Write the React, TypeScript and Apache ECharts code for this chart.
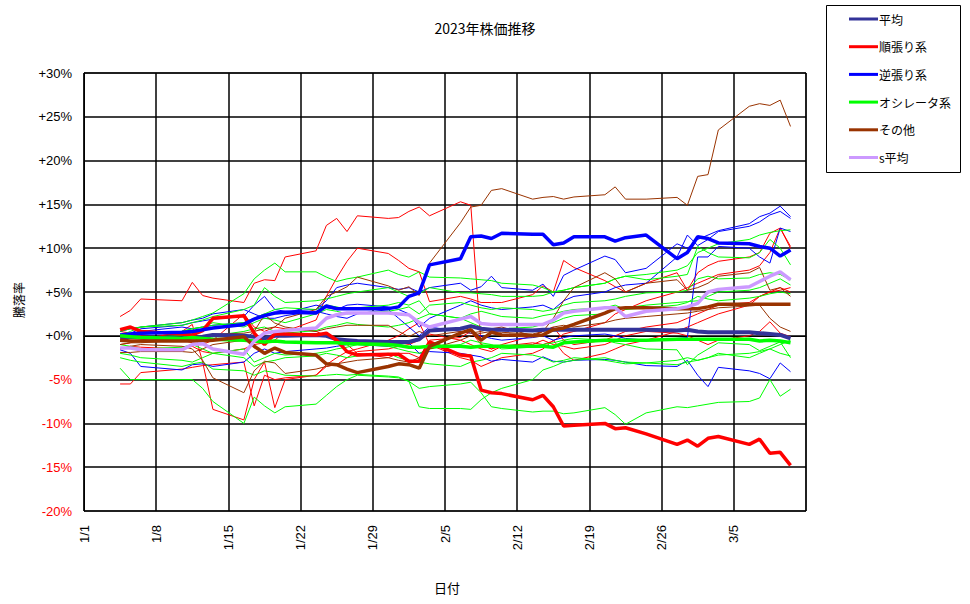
import React, { useEffect, useRef } from "react";
import * as echarts from "echarts";

// trading days (x positions come from these dates through the value axis)
const tradingDays = [
  "1/4", "1/5", "1/6", "1/10", "1/11", "1/12", "1/13", "1/16", "1/17", "1/18",
  "1/19", "1/20", "1/23", "1/24", "1/25", "1/26", "1/27", "1/30", "1/31", "2/1",
  "2/2", "2/3", "2/6", "2/7", "2/8", "2/9", "2/10", "2/13", "2/14", "2/15",
  "2/16", "2/17", "2/20", "2/21", "2/22", "2/24", "2/27", "2/28", "3/1", "3/2",
  "3/3", "3/6", "3/7", "3/8", "3/9", "3/10",
];

const avgAll = [
  -0.2, -0.1, -0.2, -0.3, -0.2, -0.1, 0.1, 0.0, -0.1, -0.3,
  0.0, 0.0, 0.1, 0.0, -0.4, -0.5, -0.6, -0.7, -0.7, -0.7,
  -0.4, 0.6, 0.8, 1.1, 0.8, 0.7, 0.7, 0.6, 0.7, 0.7,
  0.7, 0.7, 0.7, 0.7, 0.7, 0.7, 0.6, 0.7, 0.5, 0.4,
  0.4, 0.4, 0.3, 0.2, 0.1, -0.3,
];
const trendAvg = [
  0.7, 1.0, 0.5, 0.2, 0.1, 0.6, 2.0, 2.3, 0.3, -1.0,
  0.2, 0.2, 0.1, 0.3, -0.5, -1.8, -2.2, -2.1, -2.1, -2.9,
  -2.9, -0.7, -2.2, -2.3, -6.2, -6.5, -6.6, -7.3, -6.8, -8.1,
  -10.3, -10.2, -10.0, -10.6, -10.5, -11.2, -12.4, -11.9, -12.6, -11.7,
  -11.5, -12.4, -11.8, -13.4, -13.3, -14.8,
];
const contraAvg = [
  0.1, 0.2, 0.3, 0.4, 0.5, 0.7, 0.9, 1.3, 1.9, 2.3,
  2.6, 2.7, 2.6, 3.4, 3.1, 3.1, 3.1, 3.1, 3.3, 4.5,
  4.9, 8.1, 8.8, 11.3, 11.4, 11.1, 11.7, 11.6, 11.6, 10.4,
  10.6, 11.3, 11.3, 10.8, 11.2, 11.5, 8.8, 9.5, 11.3, 11.1,
  10.6, 10.5, 10.2, 10.0, 9.1, 9.8,
];
const oscAvg = [
  0.0, -0.1, -0.2, -0.3, -0.2, -0.3, -0.4, -0.5, -0.6, -0.7,
  -0.6, -0.7, -0.8, -0.8, -0.8, -0.9, -0.9, -1.0, -1.1, -1.3,
  -1.3, -1.2, -1.2, -1.3, -1.2, -1.2, -1.2, -1.2, -1.2, -1.3,
  -0.8, -0.7, -0.5, -0.5, -0.5, -0.5, -0.4, -0.4, -0.4, -0.4,
  -0.4, -0.4, -0.6, -0.5, -0.6, -0.8,
];
const otherAvg = [
  -0.5, -0.6, -0.6, -0.6, -0.6, -0.6, -0.5, -0.1, -1.2, -2.0,
  -1.4, -1.9, -2.2, -3.2, -3.3, -3.8, -4.2, -3.5, -3.2, -3.3,
  -3.7, -1.2, 0.3, 0.7, -0.5, 0.4, 0.1, 0.0, 0.1, 0.7,
  0.9, 1.3, 2.6, 3.1, 3.2, 3.2, 3.1, 3.1, 3.1, 3.3,
  3.6, 3.6, 3.6, 3.6, 3.6, 3.6,
];
const sAvg = [
  -1.4, -1.4, -1.6, -1.6, -1.0, -0.9, -1.5, -2.1, -0.6, 0.3,
  0.5, 0.6, 0.9, 2.0, 2.4, 2.6, 2.6, 2.6, 2.5, 2.4,
  1.5, 1.0, 1.9, 2.2, 1.4, 1.3, 1.3, 1.3, 1.3, 1.8,
  2.6, 2.8, 3.2, 3.2, 2.2, 2.8, 3.1, 3.3, 3.7, 5.0,
  5.3, 5.6, 6.2, 6.8, 7.3, 6.4,
];

// individual strategies (thin lines)
const trendLines = [
  [2.2, 2.9, 4.2, 4.0, 6.1, 4.6, 4.3, 3.8, 6.0, 6.4,
   6.3, 9.0, 9.7, 12.6, 13.4, 11.9, 13.7, 13.4, 13.5, 14.2,
   14.7, 13.7, 15.3, 14.9, -1.0, -1.5, -1.2, -0.8, -1.0, -0.6,
   0.2, 0.5, 1.5, 2.5, 3.0, 4.0, 5.0, 5.5, 6.0, 6.5,
   7.0, 7.5, 8.0, 9.5, 12.3, 10.2],
  [-1.5, -1.2, -1.3, -1.5, -1.2, -1.8, -2.0, -1.5, -1.0, -0.8,
   -0.5, 0.5, 1.8, 4.5, 6.6, 8.5, 10.0, 9.4, 8.6, 7.7,
   7.3, 3.9, 4.5, 4.2, 3.8, 3.8, 3.8, 4.7, 5.7, 5.0,
   8.6, 7.8, 6.3, 5.6, 5.0, 6.0, 7.2, 5.2, 7.2, 8.0,
   8.5, 9.0, 9.5, 11.7, 12.3, 10.0],
  [-5.5, -5.5, -4.2, -3.8, -3.6, -3.4, -3.3, -3.0, -8.0, -4.5,
   -5.0, -4.8, -4.5, -3.3, -2.5, -1.8, -1.5, -0.5, 0.0, 0.8,
   1.5, -1.0, -2.5, -2.8, -3.5, -3.0, -2.5, -2.0, -1.5, -0.5,
   -2.0, -2.8, -2.0, -1.5, -1.0, -0.5, 0.5, 1.0, 1.5, 2.0,
   2.5, 3.5, 4.5, 5.0, 5.2, 5.5],
  [-1.0, -0.8, -0.5, 0.5, 1.3, -3.0, -8.4, -9.6, -5.0, -3.0,
   -8.2, -5.0, -4.5, -3.5, -3.3, -2.5, -1.8, -1.5, -1.2, -1.0,
   -0.5, 0.2, -0.5, -1.0, -1.5, -1.8, -1.2, -1.0, -0.5, -1.0,
   -1.2, -1.5, -1.0, -0.5, 0.0, 0.5, 0.3, 0.0, -0.5, -1.0,
   -0.5, 0.0, 0.5, 1.6, 0.3, -0.1],
  [0.5, 0.3, 0.0, -0.5, -0.8, -1.0, -0.5, 2.5, 1.0, 0.5,
   1.0, 0.8, 0.5, 0.0, -0.5, -1.0, -2.0, -2.5, -2.0, -2.0,
   -2.5, -0.5, -0.2, 0.5, -1.0, -1.5, -1.0, 0.0, 0.5, 1.0,
   -0.5, -1.0, -0.5, 0.0, 0.5, 1.0, 1.5, 2.0, 2.5, 3.0,
   3.5, 3.8, 4.5, 5.0, 5.5, 5.0],
];
const contraLines = [
  [-0.5, 0.3, 0.8, 1.2, 1.5, 1.7, 1.9, 2.2, 3.5, 4.5,
   3.0, 2.8, 3.0, 4.0, 5.5, 5.8, 6.0, 5.5, 5.3, 5.5,
   5.0, 5.5, 6.0, 5.2, 5.6, 6.8, 5.5, 5.2, 5.9, 4.5,
   6.9, 7.5, 9.1, 8.7, 7.2, 7.7, 10.5, 10.0, 11.0, 11.5,
   12.0, 12.8, 13.6, 14.0, 14.8, 13.6],
  [0.0, 0.2, 0.5, 1.0, 0.8, 1.0, 1.2, 1.5, 2.0, 2.5,
   2.5, 2.6, 3.5, 3.2, 3.0, 3.5, 3.6, 3.3, 3.0, 2.5,
   1.0, 2.0, 3.5, 4.0, 3.5, 3.2, 3.0, 3.3, 3.5, 3.0,
   4.0, 4.5, 5.0, 5.5, 5.8, 6.0, 9.0, 11.5, 10.3, 11.0,
   11.9, 12.5, 13.0, 13.8, 14.2, 13.4],
  [-1.6, -2.0, -3.5, -3.9, -3.3, -3.2, -3.5, -3.0, -2.0, -1.5,
   -2.0, -1.8, -1.5, -1.4, -1.2, -1.0, -1.0, -1.2, -1.0, -0.8,
   -2.0, -1.8, -2.0, -2.2, -2.4, -2.9, -2.7, -3.0, -2.4, -2.9,
   -3.0, -2.8, -2.7, -2.8, -3.0, -3.4, -3.5, -2.8, -4.5, -5.8,
   -3.6, -4.0, -4.3, -4.9, -3.1, -4.1],
  [0.5, 0.8, 1.0, 1.5, 1.8, 2.0, 2.5, 3.0, 2.5, 2.0,
   2.0, 2.3, 2.8, 2.5, 2.2, 2.0, 2.5, 3.0, 2.0, 1.0,
   0.0, 1.0, 0.5, 0.3, 0.0, -0.3, -0.5, -0.2, 0.0, -0.5,
   -0.2, 0.0, 0.2, 0.0, -0.3, -0.5, -0.3, -0.2, 9.0, 9.0,
   10.2, 10.0, 9.0, 8.3, 12.3, 11.9],
];
const oscLines = [
  [0.0, 0.5, 1.0, 1.5, 1.8, 2.2, 2.6, 4.8, 6.5, 7.5,
   8.3, 7.3, 7.3, 6.7, 6.2, 6.5, 6.7, 7.5, 7.0, 6.7,
   7.3, 6.7, 6.6, 6.5, 6.4, 6.3, 6.0, 5.8, 5.5, 5.0,
   5.2, 5.5, 6.0, 6.5, 6.8, 7.0, 7.5, 8.0, 9.5, 10.0,
   10.5, 11.0, 11.5, 11.8, 12.0, 12.1],
  [-2.5, -2.8, -3.0, -3.5, -3.2, -3.0, -3.8, -4.0, -4.5, -4.0,
   -4.2, -4.5, -4.6, -4.5, -4.4, -4.5, -4.4, -4.6, -4.7, -5.2,
   -6.0, -5.8, -5.5, -5.3, -6.5, -8.1, -8.3, -8.7, -8.6, -8.6,
   -8.9, -8.8, -8.2, -9.0, -10.1, -8.8, -8.1, -8.2, -8.0, -7.8,
   -7.6, -7.5, -7.1, -5.0, -6.9, -6.1],
  [-3.7, -5.0, -5.0, -5.0, -5.0, -6.0, -7.5, -10.0, -7.0, -8.0,
   -8.8, -8.1, -7.8, -6.8, -5.8, -5.0, -4.5, -4.7, -4.8, -5.2,
   -8.1, -8.3, -8.3, -8.4, -7.3, -6.5, -6.0, -5.0, -3.9, -3.5,
   -3.0, -2.8, -2.5, -2.8, -3.0, -3.1, -3.3, -3.0, -2.8, -2.5,
   -2.2, -2.0, -1.8, -1.5, -2.0, -2.3],
  [0.5, 0.8, 1.0, 1.2, 1.5, 1.8, 2.2, 3.0, 3.5, 5.5,
   4.5, 3.8, 4.0, 4.2, 4.5, 4.8, 5.0, 5.5, 5.0, 4.5,
   4.8, 5.5, 4.9, 4.9, 4.8, 4.7, 4.5, 4.5, 4.6, 5.0,
   5.2, 5.5, 6.0, 6.5, 6.8, 6.4, 6.8, 7.0, 10.2, 9.5,
   9.0, 8.9, 9.5, 11.0, 10.0, 8.1],
  [0.0, 0.2, 0.3, 0.5, 0.8, 1.0, 1.5, 1.0, 1.5, 2.0,
   1.8, 1.5, 2.5, 3.0, 2.8, 2.5, 2.6, 2.8, 3.0, 3.3,
   2.5, 3.5, 3.8, 3.5, 3.2, 3.0, 3.2, 3.0, 2.8, 3.0,
   3.5, 3.8, 4.0, 4.2, 4.5, 4.9, 5.0, 5.2, 6.5, 6.8,
   6.5, 6.6, 7.0, 7.2, 7.0, 6.4],
  [-0.5, -0.3, -0.2, 0.0, -0.3, -0.5, 0.0, 0.5, 0.8, 1.0,
   0.5, 0.3, 0.6, 1.0, 1.2, 1.5, 1.3, 1.0, 1.2, 1.5,
   2.0, 2.5, 2.0, 1.5, 1.0, 0.5, 0.8, 1.0, 1.3, 1.5,
   2.0, 2.3, 2.5, 3.0, 3.2, 3.5, 3.8, 3.9, 4.0, 4.5,
   5.0, 5.2, 5.5, 6.0, 6.5, 5.8],
  [-1.0, -1.2, -1.5, -1.3, -1.0, -1.5, -2.0, -1.5, -3.0, -2.5,
   -2.0, -2.2, -2.0, -1.8, -1.5, -1.3, -1.0, -1.2, -1.5, -1.8,
   -2.0, -1.5, -1.0, -0.5, -0.8, -1.0, -1.5, -1.3, -1.0, -0.8,
   -0.5, -0.3, -0.5, -0.8, -1.0, -1.5, -1.6, -3.3, -2.2, -1.5,
   -0.8, -1.0, -1.7, -1.2, -0.7, -2.5],
  [-2.0, -2.2, -2.5, -2.8, -3.0, -2.5, -2.0, -2.5, -3.5, -3.0,
   -2.8, -2.5, -2.3, -2.0, -2.2, -2.5, -2.3, -2.0, -2.5, -2.8,
   -3.0, -3.2, -3.5, -3.0, -2.8, -2.5, -2.0, -2.2, -2.5, -3.0,
   -2.8, -2.5, -2.8, -3.0, -3.2, -3.1, -2.8, -2.5, -2.8, -2.5,
   -2.0, -2.5, -2.0, -1.5, -1.0, -0.5],
  [-0.2, 0.0, 0.2, 0.5, 0.8, 1.0, 1.2, 1.5, 2.0, 2.5,
   3.0, 3.2, 3.0, 3.5, 3.3, 3.0, 3.2, 3.5, 3.8, 3.5,
   4.0, 2.5, 2.0, 2.5, 2.8, 2.5, 2.2, 2.0, 2.3, 2.5,
   2.8, 3.0, 3.2, 3.5, 3.0, 3.2, 3.5, 3.8, 4.5, 4.2,
   4.0, 4.3, 4.5, 4.8, 5.0, 4.8],
];
const otherLines = [
  [-1.0, -0.8, -0.8, -0.5, -0.3, 0.0, 0.2, 0.3, 0.5, 0.8,
   1.0, 2.0, 3.0, 4.5, 5.0, 5.6, 6.7, 5.7, 5.2, 5.6,
   4.6, 8.3, 12.9, 14.7, 14.9, 16.6, 16.8, 15.6, 15.8, 15.9,
   15.6, 15.85, 16.1, 17.0, 15.6, 15.6, 15.8, 14.9, 18.2, 18.4,
   23.5, 26.2, 26.5, 26.3, 26.9, 23.9],
  [-1.5, -1.2, -1.0, -1.2, -1.5, -2.8, -4.8, -6.5, -4.0, -2.9,
   -3.1, -4.3, -3.8, -3.5, -3.2, -3.0, -2.8, -2.5, -2.8, -3.0,
   -2.5, -1.5, -0.5, 0.0, 0.3, 0.5, 0.4, 0.2, 0.5, 1.0,
   1.2, 1.0, 1.5, 1.8, 2.0, 2.2, 2.5, 2.6, 2.8, 3.0,
   3.2, 3.4, 3.5, 2.0, 1.0, 0.5],
  [-1.9, -1.9, -1.8, -1.8, -1.9, -1.5, -1.0, -0.5, 0.5, 2.4,
   1.45, 1.0, 0.5, 0.8, 1.0, 1.2, 1.2, 1.2, 0.5, -0.1,
   0.5, 0.0, 0.5, 0.3, 0.5, 0.8, 1.0, 0.0, 0.5, 2.0,
   4.0, 5.5, 7.2, 6.5, 5.0, 6.0, 6.4, 5.2, 5.5, 6.0,
   6.8, 7.2, 7.8, 5.2, 5.5, 4.5],
];

const X_MIN = 0;
const X_MAX = 70;
const yTicks = { min: -20, max: 30, interval: 5 };

function dayX(s: string): number {
  const [m, d] = s.split("/").map(Number);
  const t0 = Date.UTC(2023, 0, 1);
  const t = Date.UTC(2023, m - 1, d);
  return Math.round((t - t0) / 86400000) + 0.5;
}

function pairs(vals: number[]) {
  return vals.map((v, i) => [dayX(tradingDays[i]), v]);
}

export default function App() {
  const ref = useRef<HTMLDivElement>(null);
  useEffect(() => {
    if (!ref.current) return;
    const chart = echarts.init(ref.current, null, { renderer: "svg" });
    const jp = "'Noto Sans CJK JP', 'Liberation Sans', sans-serif";
    const thin = (name: string, color: string, vals: number[]) => ({
      type: "line",
      name,
      data: pairs(vals),
      symbol: "none",
      lineStyle: { color, width: 1 },
      itemStyle: { color },
      z: 2,
      silent: true,
    });
    const thick = (name: string, color: string, vals: number[], w = 3.5) => ({
      type: "line",
      name,
      data: pairs(vals),
      symbol: "none",
      lineStyle: { color, width: w },
      itemStyle: { color },
      z: 3,
    });
    const series: any[] = [];
    trendLines.forEach((v, i) => series.push(thin("順張り" + (i + 1), "#FF0000", v)));
    contraLines.forEach((v, i) => series.push(thin("逆張り" + (i + 1), "#0000FF", v)));
    oscLines.forEach((v, i) => series.push(thin("オシレータ" + (i + 1), "#00FF00", v)));
    otherLines.forEach((v, i) => series.push(thin("その他" + (i + 1), "#993300", v)));
    series.push(thick("平均", "#333399", avgAll, 4));
    series.push(thick("順張り系", "#FF0000", trendAvg));
    series.push(thick("逆張り系", "#0000FF", contraAvg));
    series.push(thick("オシレータ系", "#00FF00", oscAvg));
    series.push(thick("その他", "#993300", otherAvg));
    series.push(thick("s平均", "#CC99FF", sAvg));

    chart.setOption({
      animation: false,
      backgroundColor: "#ffffff",
      title: {
        text: "2023年株価推移",
        left: "center",
        top: 16,
        textStyle: { fontFamily: jp, fontSize: 14, fontWeight: "normal", color: "#000" },
      },
      legend: {
        data: ["平均", "順張り系", "逆張り系", "オシレータ系", "その他", "s平均"],
        orient: "vertical",
        left: 844,
        top: 7,
        itemWidth: 29,
        itemHeight: 3,
        itemGap: 13.7,
        icon: "rect",
        selectedMode: false,
        textStyle: { fontFamily: jp, fontSize: 12, color: "#000", lineHeight: 14, padding: [0, 0, 0, -4] },
      },
      graphic: [
        {
          type: "rect",
          shape: { x: 826.5, y: 5.5, width: 134, height: 167 },
          style: { fill: "none", stroke: "#000", lineWidth: 1 },
          z: 0,
        },
        {
          type: "text",
          x: 18,
          y: 300,
          rotation: Math.PI / 2,
          style: { text: "騰落率", fontFamily: jp, fontSize: 12, fill: "#000", align: "center", verticalAlign: "middle" },
        },
        {
          type: "text",
          x: 447,
          y: 587,
          style: { text: "日付", fontFamily: jp, fontSize: 13, fill: "#000", align: "center", verticalAlign: "middle" },
        },
      ],
      grid: { left: 84, right: 164, top: 73, bottom: 93, show: true, borderColor: "#000", borderWidth: 1 },
      xAxis: {
        type: "value",
        min: X_MIN,
        max: X_MAX,
        interval: 7,
        axisLine: { show: true, lineStyle: { color: "#000", width: 1 } },
        axisTick: { show: false },
        splitLine: { show: true, lineStyle: { color: "#000", width: 1.5 } },
        axisLabel: {
          rotate: 90,
          margin: 14,
          fontFamily: "'Liberation Sans', sans-serif",
          fontSize: 13,
          color: "#000",
          formatter: (v: number) => {
            if (v >= X_MAX) return "";
            const dt = new Date(Date.UTC(2023, 0, 1 + v));
            return `${dt.getUTCMonth() + 1}/${dt.getUTCDate()}`;
          },
        },
      },
      yAxis: {
        type: "value",
        min: yTicks.min,
        max: yTicks.max,
        interval: yTicks.interval,
        axisLine: { show: true, lineStyle: { color: "#000", width: 1 } },
        axisTick: { show: false },
        splitLine: { show: true, lineStyle: { color: "#000", width: 1.5 } },
        axisLabel: {
          margin: 12,
          fontFamily: "'Liberation Sans', sans-serif",
          fontSize: 13,
          formatter: (v: number) => (v >= 0 ? "+" : "") + v + "%",
          color: (v: any) => (Number(v) < 0 ? "#FF0000" : "#000000"),
        },
      },
      series,
    });
    return () => chart.dispose();
  }, []);
  return <div ref={ref} style={{ position: "fixed", left: 0, top: 0, width: 970, height: 604, background: "#fff" }} />;
}
